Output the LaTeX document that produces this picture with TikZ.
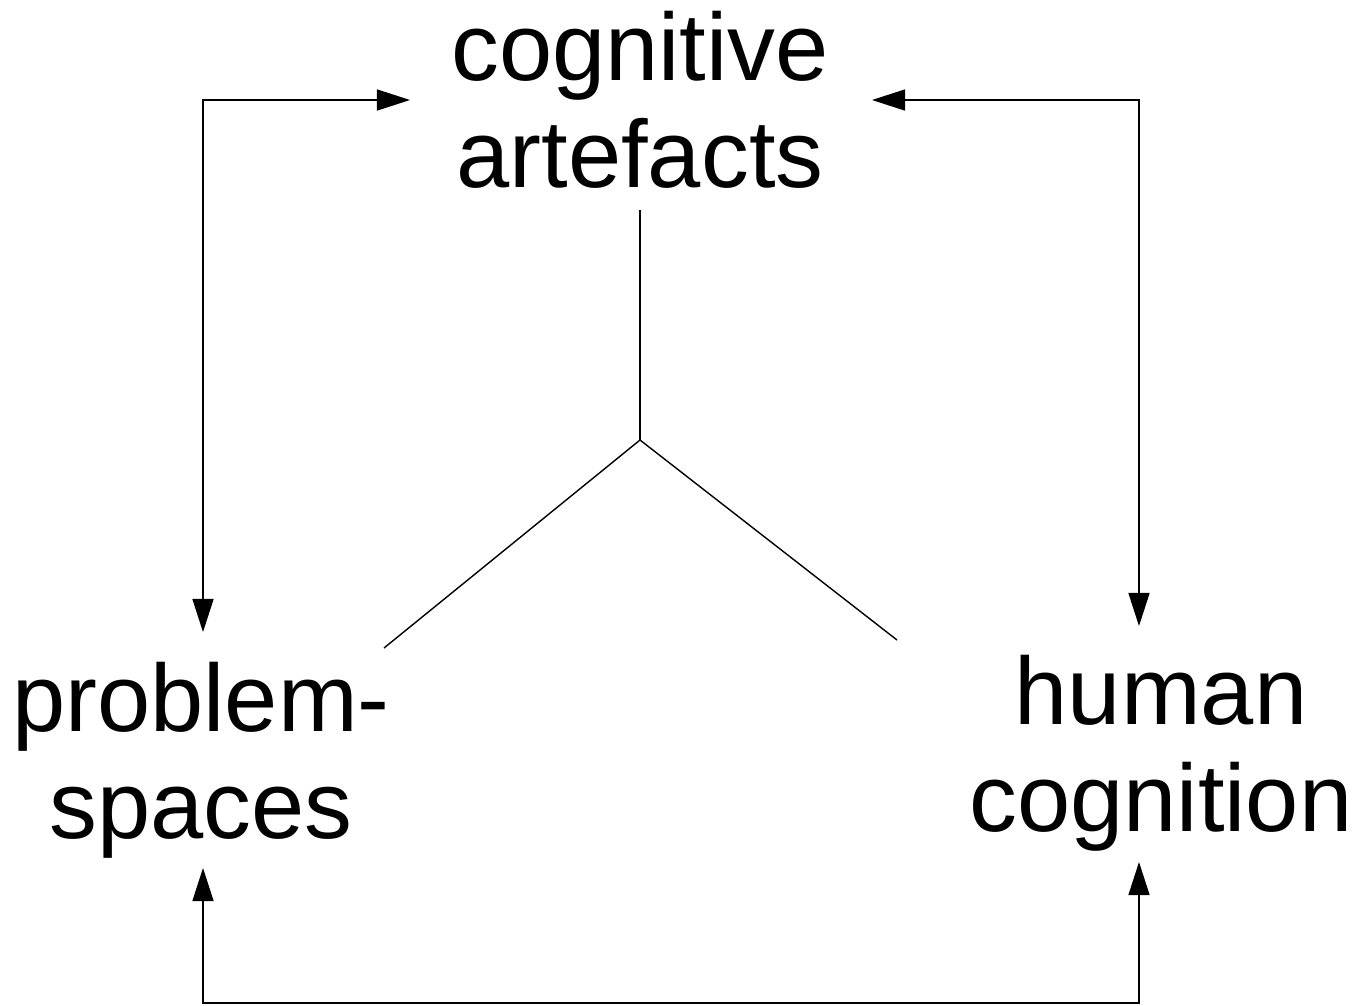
\documentclass[tikz,border=0pt]{standalone}
\usepackage{fontspec}
\setmainfont{Liberation Sans}
\usetikzlibrary{arrows.meta}
\tikzset{
  term/.style={font=\fontsize{27.2}{30.5}\selectfont, align=center, inner sep=0pt},
  link/.style={line width=0.4pt},
  twoway/.style={link, {Triangle[length=0.33cm,width=0.21cm]}-{Triangle[length=0.33cm,width=0.21cm]}}
}
\begin{document}
\begin{tikzpicture}[x=0.01cm,y=-0.01cm]
\useasboundingbox (0,0) rectangle (1360,1005);
\node[term] (artefacts) at (640,100) {cognitive\\artefacts};
\node[term] (spaces) at (201,760) {problem-\\spaces};
\node[term] (cognition) at (1161,753) {human\\cognition};
% estremi delle linee
\coordinate (hub) at (640,440);
\coordinate (hub-up) at (640,210);
\coordinate (hub-left) at (384,648);
\coordinate (hub-right) at (897,640);
\coordinate (ca-w) at (410,100);
\coordinate (ca-e) at (872,100);
\coordinate (ps-n) at (203,632);
\coordinate (ps-s) at (203,868);
\coordinate (hc-n) at (1139,626);
\coordinate (hc-s) at (1139,862);
\coordinate (floor) at (0,1003);
\draw[link] (hub) -- (hub-up);
\draw[link] (hub) -- (hub-left);
\draw[link] (hub) -- (hub-right);
\draw[twoway] (ca-w) -| (ps-n);
\draw[twoway] (ca-e) -| (hc-n);
\draw[twoway] (ps-s) -- (ps-s |- floor) -| (hc-s);
\end{tikzpicture}
\end{document}
